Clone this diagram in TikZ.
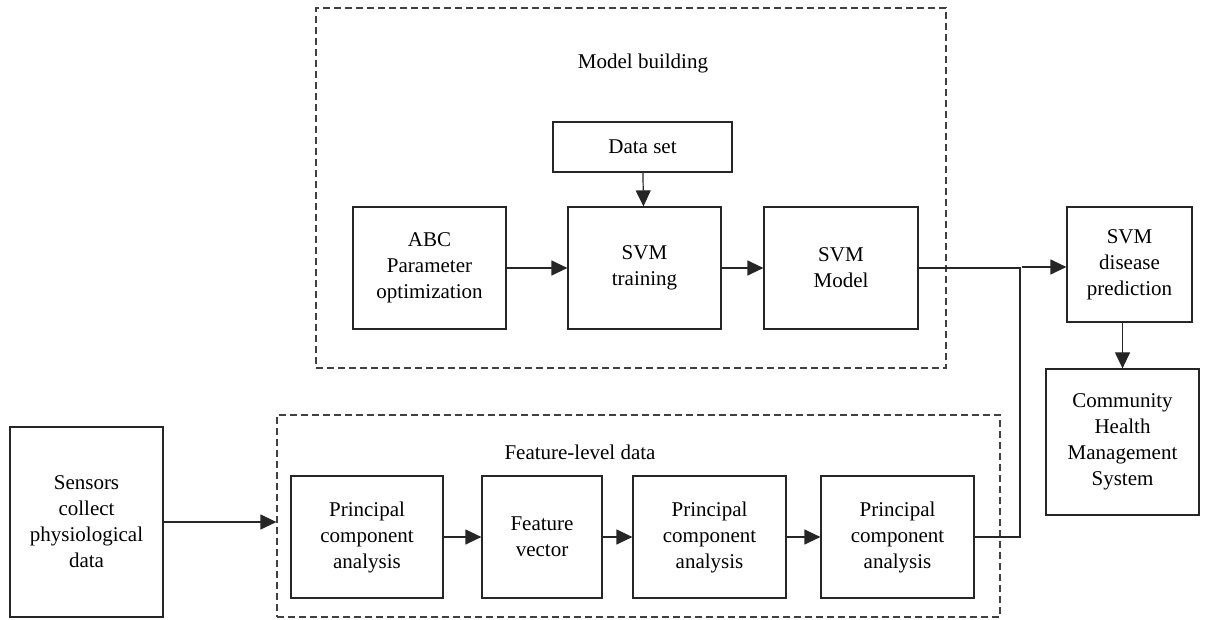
\documentclass[tikz,border=0pt]{standalone}
\usepackage{fontspec}
\setmainfont{Liberation Serif}
\usetikzlibrary{arrows.meta,calc}

\tikzset{
  box/.style={draw=black!85, line width=1.2pt, align=center, inner sep=2pt,
              font=\fontsize{21}{26}\selectfont},
  frame/.style={draw=black!75, line width=1.2pt, dash pattern=on 7pt off 4pt},
  label/.style={font=\fontsize{21}{26}\selectfont, inner sep=0pt},
  link/.style={line width=1.2pt, draw=black!85},
  flow/.style={link, -{Triangle[length=16pt,width=15pt]}},
}

\begin{document}
\begin{tikzpicture}[x=1pt, y=-1pt]
  \useasboundingbox (0,0) rectangle (1216,620);

  % dashed group frames
  \node[frame, minimum width=630pt, minimum height=360pt] (topframe) at (631,188) {};
  \node[frame, minimum width=723pt, minimum height=202pt] (botframe) at (638.5,516) {};
  \node[label] (mbtitle) at (643,63) {Model building};
  \node[label] (fltitle) at (580,452) {Feature-level data};

  % model building
  \node[box, minimum width=179pt, minimum height=50pt] (dataset) at (642.5,147) {Data set};
  \node[box, minimum width=153pt, minimum height=122pt] (abc) at (429.5,268) {ABC\\Parameter\\optimization};
  \node[box, minimum width=153pt, minimum height=122pt] (train) at (644.5,268) {SVM\\training};
  \node[box, minimum width=154pt, minimum height=122pt] (model) at (841,268) {SVM\\Model};

  % prediction and management
  \node[box, minimum width=125pt, minimum height=115pt] (pred) at (1129.5,264.5) {SVM\\disease\\prediction};
  \node[box, minimum width=153pt, minimum height=146pt] (comm) at (1122.5,442) {Community\\Health\\Management\\System};

  % sensor input
  \node[box, minimum width=153pt, minimum height=190pt] (sensors) at (86.5,522) {Sensors\\collect\\physiological\\data};

  % feature-level processing
  \node[box, minimum width=152pt, minimum height=122pt] (pca1) at (367,537) {Principal\\component\\analysis};
  \node[box, minimum width=120pt, minimum height=122pt] (fvec) at (542,537) {Feature\\vector};
  \node[box, minimum width=153pt, minimum height=122pt] (pca3) at (709.5,537) {Principal\\component\\analysis};
  \node[box, minimum width=153pt, minimum height=122pt] (pca4) at (897.5,537) {Principal\\component\\analysis};

  \coordinate (join) at (1020,267);

  % connectors
  \draw[flow] (dataset) -- (train);
  \draw[flow] (abc) -- (train);
  \draw[flow] (train) -- (model);
  \draw[link] (model.east) -- (model.east -| join);
  \draw[link] (pca4.east) -- (pca4.east -| join) -- (join);
  \draw[flow] ([xshift=2pt]join) -- (join -| pred.west);
  \draw[flow] (pred.south -| comm.north) -- (comm.north);

  \draw[flow] (sensors.east) -- (sensors.east -| botframe.west);
  \draw[flow] (pca1) -- (fvec);
  \draw[flow] (fvec) -- (pca3);
  \draw[flow] (pca3) -- (pca4);
\end{tikzpicture}
\end{document}
